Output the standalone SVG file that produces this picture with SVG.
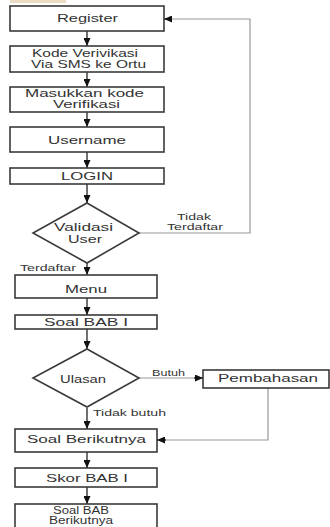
<svg xmlns="http://www.w3.org/2000/svg" width="330" height="527" viewBox="0 0 330 527">
<style>
.box{fill:#fff;stroke:#3a3a3a;stroke-width:1.6}
.t{font-family:"Liberation Sans",Arial,sans-serif;font-size:11px;fill:#333;text-anchor:middle}
.s{font-family:"Liberation Sans",Arial,sans-serif;font-size:9px;fill:#333}
.c{fill:none;stroke:#222;stroke-width:1.3}
.g{fill:none;stroke:#999;stroke-width:1.2}
</style>
<defs>
<marker id="ah" markerWidth="8" markerHeight="7" refX="8" refY="3.5" orient="auto" markerUnits="userSpaceOnUse">
<path d="M0,0 L8,3.5 L0,7 Z" fill="#111"/>
</marker>
</defs>
<rect x="0" y="0" width="330" height="527" fill="#fff"/>
<rect x="10" y="0" width="56" height="3" fill="#eadbc3"/>
<g id="connectors">
<line class="c" x1="87" y1="31" x2="87" y2="46" marker-end="url(#ah)"/>
<line class="c" x1="87" y1="72" x2="87" y2="87" marker-end="url(#ah)"/>
<line class="c" x1="87" y1="112" x2="87" y2="127" marker-end="url(#ah)"/>
<line class="c" x1="87" y1="152" x2="87" y2="168" marker-end="url(#ah)"/>
<line class="c" x1="87" y1="184" x2="87" y2="203" marker-end="url(#ah)"/>
<polyline class="g" points="139,233 250,233 250,19 171,19"/>
<line class="c" x1="172" y1="19" x2="164" y2="19" marker-end="url(#ah)"/>
<line class="c" x1="87" y1="263" x2="87" y2="275" marker-end="url(#ah)"/>
<line class="c" x1="87" y1="298" x2="87" y2="315" marker-end="url(#ah)"/>
<line class="c" x1="87" y1="329" x2="87" y2="349" marker-end="url(#ah)"/>
<line class="g" x1="139" y1="378" x2="195" y2="378"/>
<line class="c" x1="194" y1="378" x2="203" y2="378" marker-end="url(#ah)"/>
<polyline class="g" points="268,388 268,440 165,440"/>
<line class="c" x1="166" y1="440" x2="157" y2="440" marker-end="url(#ah)"/>
<line class="c" x1="87" y1="408" x2="87" y2="429" marker-end="url(#ah)"/>
<line class="c" x1="87" y1="452" x2="87" y2="468" marker-end="url(#ah)"/>
<line class="c" x1="87" y1="487" x2="87" y2="504" marker-end="url(#ah)"/>
<text class="s" x="177" y="220" textLength="34" lengthAdjust="spacingAndGlyphs">Tidak</text>
<text class="s" x="167" y="230" textLength="56" lengthAdjust="spacingAndGlyphs">Terdaftar</text>
<text class="s" x="20" y="271" textLength="56" lengthAdjust="spacingAndGlyphs">Terdaftar</text>
<text class="s" x="152" y="376" textLength="33" lengthAdjust="spacingAndGlyphs">Butuh</text>
<text class="s" x="93" y="416" textLength="73" lengthAdjust="spacingAndGlyphs">Tidak butuh</text>
</g>
<g id="register">
<rect class="box" x="10" y="6" width="154" height="25"/>
<text class="t" x="87.5" y="22" textLength="61" lengthAdjust="spacingAndGlyphs">Register</text>
</g>
<g id="kode">
<rect class="box" x="10" y="46" width="154" height="26"/>
<text class="t" x="85" y="57" textLength="106" lengthAdjust="spacingAndGlyphs">Kode Verivikasi</text>
<text class="t" x="88.5" y="68" textLength="115" lengthAdjust="spacingAndGlyphs">Via SMS ke Ortu</text>
</g>
<g id="masukkan">
<rect class="box" x="10" y="87" width="154" height="25"/>
<text class="t" x="84.5" y="97" textLength="119" lengthAdjust="spacingAndGlyphs">Masukkan kode</text>
<text class="t" x="86.5" y="108" textLength="67" lengthAdjust="spacingAndGlyphs">Verifikasi</text>
</g>
<g id="username">
<rect class="box" x="10" y="127" width="154" height="25"/>
<text class="t" x="87" y="144" textLength="78" lengthAdjust="spacingAndGlyphs">Username</text>
</g>
<g id="login">
<rect class="box" x="10" y="168" width="154" height="16"/>
<text class="t" x="87" y="180" textLength="52" lengthAdjust="spacingAndGlyphs">LOGIN</text>
</g>
<g id="validasi">
<polygon class="box" points="87,203 139,233 87,263 33,233"/>
<text class="t" x="83.5" y="231" textLength="59" lengthAdjust="spacingAndGlyphs">Validasi</text>
<text class="t" x="85" y="243" textLength="34" lengthAdjust="spacingAndGlyphs">User</text>
</g>
<g id="menu">
<rect class="box" x="15" y="275" width="142" height="23"/>
<text class="t" x="86" y="293" textLength="42" lengthAdjust="spacingAndGlyphs">Menu</text>
</g>
<g id="soal1">
<rect class="box" x="15" y="315" width="142" height="14"/>
<text class="t" x="86" y="326" textLength="84" lengthAdjust="spacingAndGlyphs">Soal BAB I</text>
</g>
<g id="ulasan">
<polygon class="box" points="87,349 139,378 87,407 33,378"/>
<text class="t" x="83" y="383" textLength="46" lengthAdjust="spacingAndGlyphs">Ulasan</text>
</g>
<g id="pembahasan">
<rect class="box" x="203" y="370" width="126" height="18"/>
<text class="t" x="268" y="382" textLength="100" lengthAdjust="spacingAndGlyphs">Pembahasan</text>
</g>
<g id="soalberikutnya">
<rect class="box" x="15" y="429" width="142" height="23"/>
<text class="t" x="86.5" y="443" textLength="119" lengthAdjust="spacingAndGlyphs">Soal Berikutnya</text>
</g>
<g id="skor">
<rect class="box" x="15" y="468" width="142" height="19"/>
<text class="t" x="87" y="482" textLength="82" lengthAdjust="spacingAndGlyphs">Skor BAB I</text>
</g>
<g id="soalbab">
<rect class="box" x="15" y="504" width="142" height="30"/>
<text class="t" x="81" y="514" textLength="56" lengthAdjust="spacingAndGlyphs" style="font-size:10px">Soal BAB</text>
<text class="t" x="81" y="524" textLength="64" lengthAdjust="spacingAndGlyphs" style="font-size:10px">Berikutnya</text>
</g>
</svg>
